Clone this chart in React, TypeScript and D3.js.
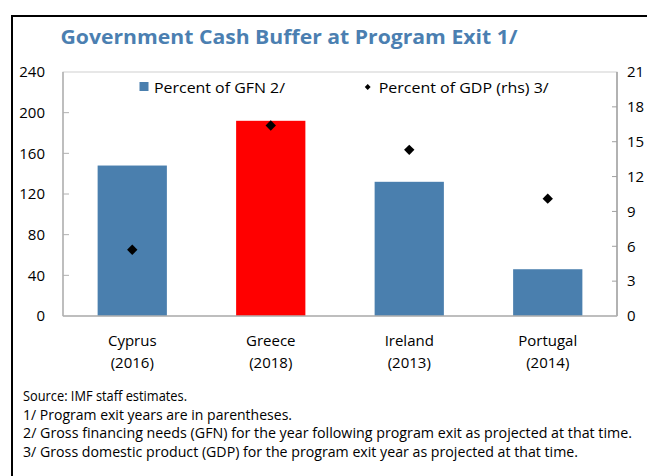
import React from "react";
import * as d3 from "d3";

const categories = ["Cyprus", "Greece", "Ireland", "Portugal"];
const years = ["(2016)", "(2018)", "(2013)", "(2014)"];
const gfnValues = [148, 192, 132, 46];
const gdpValues = [5.7, 16.4, 14.3, 10.1];
const barColors = ["#4a7fae", "#ff0000", "#4a7fae", "#4a7fae"];
const leftTicks = [0, 40, 80, 120, 160, 200, 240];
const rightTicks = [0, 3, 6, 9, 12, 15, 18, 21];
const title = "Government Cash Buffer at Program Exit 1/";
const legendLabels = ["Percent of GFN 2/", "Percent of GDP (rhs) 3/"];
const footnotes = [
  "Source: IMF staff estimates.",
  "1/ Program exit years are in parentheses.",
  "2/ Gross financing needs (GFN) for the year following program exit as projected at that time.",
  "3/ Gross domestic product (GDP) for the program exit year as projected at that time.",
];
const footnoteWidths = [164, 269, 609, 555];

const FONT = "'Open Sans', 'Noto Sans', sans-serif";

export default function App() {
  const W = 647;
  const H = 476;
  const left = 63;
  const right = 617;
  const top = 72;
  const bottom = 316;

  const x = d3.scaleBand<string>().domain(categories).range([left, right]).paddingInner(0.5).paddingOuter(0.25);
  const yL = d3.scaleLinear().domain([0, 240]).range([bottom, top]);
  const yR = d3.scaleLinear().domain([0, 21]).range([bottom, top]);

  const diamond = d3.symbol().type(d3.symbolSquare).size(54)() as string;
  const legendDiamond = d3.symbol().type(d3.symbolSquare).size(17)() as string;

  return (
    <svg
      width={W}
      height={H}
      style={{ position: "absolute", left: 0, top: 0, background: "#fff" }}
      fontFamily={FONT}
    >
      <rect x={0} y={0} width={W} height={H} fill="#fff" />
      {/* outer frame */}
      <rect x={12} y={16} width={800} height={700} fill="none" stroke="#000" strokeWidth={2} />

      {/* title */}
      <text
        x={60.5}
        y={44}
        fontSize={20}
        fontWeight={700}
        fill="#4b7fb1"
        textLength={457}
        lengthAdjust="spacingAndGlyphs"
      >
        {title}
      </text>

      {/* plot frame */}
      <rect x={left} y={top} width={right - left} height={bottom - top} fill="none" stroke="#d0d0d0" strokeWidth={1} />

      {/* bars */}
      {categories.map((c, i) => (
        <rect
          key={c}
          x={x(c)}
          y={yL(gfnValues[i])}
          width={x.bandwidth()}
          height={yL(0) - yL(gfnValues[i])}
          fill={barColors[i]}
        />
      ))}

      {/* axes lines */}
      <line x1={left} x2={left} y1={top} y2={bottom} stroke="#b0b0b0" strokeWidth={1.5} />
      <line x1={right} x2={right} y1={top} y2={bottom} stroke="#a0a0a0" strokeWidth={1.5} />
      <line x1={left} x2={right} y1={bottom} y2={bottom} stroke="#b0b0b0" strokeWidth={1.5} />

      {/* left ticks */}
      {leftTicks.map((t) => (
        <g key={"l" + t}>
          {t > 0 && t < 240 && (
            <line x1={left} x2={left + 6} y1={yL(t)} y2={yL(t)} stroke="#b0b0b0" strokeWidth={1} />
          )}
          <text x={45} y={yL(t)} dy="0.35em" textAnchor="end" fontSize={15} fill="#000">
            {t}
          </text>
        </g>
      ))}

      {/* right ticks */}
      {rightTicks.map((t) => (
        <g key={"r" + t}>
          {t > 0 && t < 21 && (
            <line x1={right - 5} x2={right} y1={yR(t)} y2={yR(t)} stroke="#a0a0a0" strokeWidth={1} />
          )}
          <text x={627} y={yR(t)} dy="0.35em" textAnchor="start" fontSize={15} fill="#000">
            {t}
          </text>
        </g>
      ))}

      {/* diamonds */}
      {categories.map((c, i) => (
        <path
          key={"d" + c}
          d={diamond}
          transform={`translate(${(x(c) as number) + x.bandwidth() / 2},${yR(gdpValues[i])}) rotate(45)`}
          fill="#000"
        />
      ))}

      {/* category labels */}
      {categories.map((c, i) => (
        <g key={"c" + c}>
          <text x={(x(c) as number) + x.bandwidth() / 2} y={346} textAnchor="middle" fontSize={15} fill="#000">
            {c}
          </text>
          <text x={(x(c) as number) + x.bandwidth() / 2} y={368} textAnchor="middle" fontSize={15} fill="#000">
            {years[i]}
          </text>
        </g>
      ))}

      {/* legend */}
      <rect x={139.5} y={82} width={9} height={9} fill={barColors[0]} />
      <text x={154} y={93} fontSize={15} fill="#000" textLength={131} lengthAdjust="spacingAndGlyphs">
        {legendLabels[0]}
      </text>
      <path d={legendDiamond} transform="translate(367.7,87) rotate(45)" fill="#000" />
      <text x={378.7} y={93} fontSize={15} fill="#000" textLength={170} lengthAdjust="spacingAndGlyphs">
        {legendLabels[1]}
      </text>

      {/* footnotes */}
      {footnotes.map((f, i) => (
        <text
          key={"f" + i}
          x={23}
          y={401 + i * 18.5}
          fontSize={14}
          fill="#000"
          textLength={footnoteWidths[i]}
          lengthAdjust="spacingAndGlyphs"
        >
          {f}
        </text>
      ))}
    </svg>
  );
}
